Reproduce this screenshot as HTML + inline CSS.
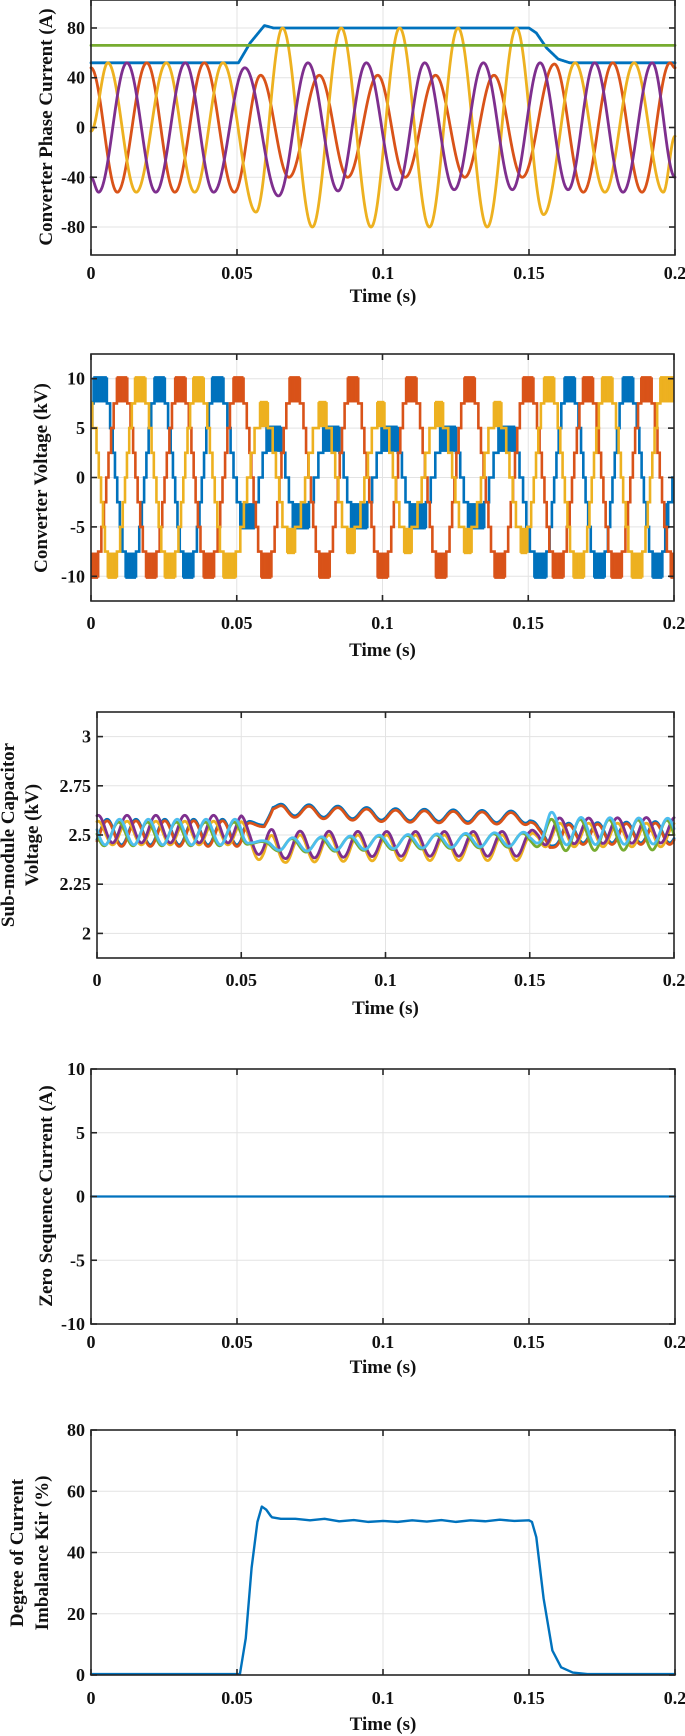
<!DOCTYPE html>
<html><head><meta charset="utf-8">
<style>
html,body{margin:0;padding:0;background:#fff;}
svg{display:block;font-family:"Liberation Serif",serif;font-weight:bold;}
</style></head>
<body>
<svg id="fig" width="685" height="1736" viewBox="0 0 685 1736" xmlns="http://www.w3.org/2000/svg"></svg>
<script>
// ===== Chart 1 data: converter phase current (extrema times / values) =====
const c1BlueT = [0,0.0505,0.0545,0.0594,0.0625,0.07,0.15,0.1525,0.156,0.16,0.164,0.2];
const c1BlueV = [52,52,68,82,80,80,80,76,64,55,52,52];
const c1GreenT = [0,0.2];
const c1GreenV = [66,66];
const c1YellowT = [0,0.0058,0.0155,0.0258,0.0355,0.0452,0.0565,0.0656,0.0758,0.0857,0.0959,0.1057,0.1159,0.1257,0.1357,0.1457,0.155,0.1658,0.176,0.186,0.196,0.2];
const c1YellowV = [-3,52,-52,52,-52,52,-68,80,-80,80,-80,80,-80,80,-80,80,-70,52,-52,52,-52,-7];
const c1OrangeT = [0,0.009,0.0191,0.0287,0.0388,0.0491,0.0581,0.0678,0.0782,0.0879,0.0982,0.1076,0.118,0.128,0.138,0.1477,0.1587,0.1686,0.1787,0.1887,0.1983,0.2];
const c1OrangeV = [48,-52,52,-52,52,-52,42,-40,42,-40,42,-40,42,-40,42,-40,51,-52,52,-52,52,48];
const c1PurpleT = [0,0.0026,0.0123,0.0222,0.0323,0.042,0.0527,0.0642,0.0743,0.0846,0.0943,0.1047,0.1143,0.1244,0.1344,0.1443,0.1538,0.1634,0.1725,0.1822,0.1922,0.2];
const c1PurpleV = [-40,-52,52,-52,52,-52,48,-55,52,-51,52,-50,52,-50,52,-50,52,-50,52,-52,52,-40];
const c1YTicks = [-80,-40,0,40,80];

// ===== Chart 2 data: converter voltage (extrema of the staircase envelope, kV) =====
const c2BlueT = [0,0.0036,0.0136,0.0235,0.0333,0.0433,0.0536,0.0627,0.0717,0.0827,0.0917,0.1027,0.1118,0.1227,0.1318,0.1428,0.1544,0.1641,0.1744,0.1841,0.1944,0.2];
const c2BlueV = [8.5,10.3,-10.3,10.3,-10.3,10.3,-5.8,5.8,-5.8,5.8,-5.8,5.8,-5.8,5.8,-5.8,5.8,-10.3,10.3,-10.3,10.3,-10.3,-1];
const c2OrangeT = [0,0.0006,0.0106,0.0206,0.0306,0.0404,0.0506,0.0601,0.0698,0.0801,0.0898,0.1001,0.1098,0.1201,0.1298,0.1402,0.1499,0.1602,0.1705,0.1802,0.1906,0.2];
const c2OrangeV = [-9.5,-10.3,10.3,-10.3,10.3,-10.3,10.3,-10.3,10.3,-10.3,10.3,-10.3,10.3,-10.3,10.3,-10.3,10.3,-10.3,10.3,-10.3,10.3,-9.5];
const c2YellowT = [0,0.0071,0.0168,0.0271,0.0368,0.0472,0.0594,0.0685,0.0795,0.0891,0.0995,0.1085,0.1195,0.1292,0.1395,0.1486,0.157,0.1673,0.177,0.1873,0.197,0.2];
const c2YellowV = [6.4,-10.3,10.3,-10.3,10.3,-10.3,6.8,-6.8,6.8,-6.8,6.8,-6.8,6.8,-6.8,6.8,-6.8,10.3,-10.3,10.3,-10.3,10.3,9.5];
const c2YTicks = [-10,-5,0,5,10];

// ===== Chart 3 data: sub-module capacitor voltage (knot means / ripple amplitudes, kV) =====
const c3KnotT = [0,0.05,0.053,0.058,0.061,0.065,0.1,0.15,0.153,0.157,0.162,0.2];
const c3BlueMean = [2.515,2.515,2.56,2.55,2.64,2.63,2.605,2.59,2.53,2.45,2.51,2.515];
const c3BlueAmp = [0.065,0.065,0.01,0,0.01,0.03,0.03,0.03,0.01,0.01,0.05,0.055];
const c3OrangeMean = [2.507,2.507,2.552,2.542,2.632,2.622,2.597,2.582,2.522,2.442,2.502,2.507];
const c3OrangeAmp = [0.065,0.065,0.01,0,0.01,0.03,0.03,0.03,0.01,0.01,0.05,0.055];
const c3YellowMean = [2.51,2.51,2.48,2.41,2.41,2.43,2.435,2.435,2.49,2.5,2.5,2.5];
const c3YellowAmp = [0.06,0.06,0.05,0.08,0.09,0.07,0.065,0.065,0.05,0.06,0.06,0.06];
const c3PurpleMean = [2.53,2.53,2.5,2.44,2.44,2.45,2.455,2.455,2.5,2.52,2.52,2.525];
const c3PurpleAmp = [0.07,0.07,0.05,0.08,0.09,0.07,0.063,0.063,0.05,0.07,0.065,0.065];
const c3GreenMean = [2.505,2.505,2.465,2.455,2.445,2.445,2.46,2.475,2.5,2.5,2.5,2.5];
const c3GreenAmp = [0.06,0.06,0.01,0.01,0.02,0.035,0.035,0.035,0.06,0.08,0.08,0.075];
const c3CyanMean = [2.515,2.515,2.47,2.46,2.45,2.45,2.465,2.48,2.52,2.53,2.52,2.52];
const c3CyanAmp = [0.065,0.065,0.01,0.01,0.02,0.035,0.035,0.035,0.06,0.09,0.07,0.065];
const c3PeakPhase = [0.0035,0.0035,0.0004,0.0004,0.0075,0.0078]; // blue, orange, yellow, purple, green, cyan
const c3YTicks = [2,2.25,2.5,2.75,3];
const c3YTickLabels = ["2","2.25","2.5","2.75","3"];

// ===== Chart 4 data: zero sequence current =====
const c4T = [0,0.2];
const c4V = [0,0];
const c4YTicks = [-10,-5,0,5,10];

// ===== Chart 5 data: degree of current imbalance Kir (%) =====
const c5T = [0,0.051,0.053,0.055,0.057,0.0585,0.06,0.0615,0.062,0.065,0.07,0.075,0.08,0.085,0.09,0.095,0.1,0.105,0.11,0.115,0.12,0.125,0.13,0.135,0.14,0.145,0.15,0.151,0.1525,0.155,0.158,0.161,0.165,0.17,0.2];
const c5V = [0.3,0.3,12,35,50,55,54,52,51.5,51,51,50.5,51,50.2,50.6,50,50.3,50,50.5,50.1,50.6,50,50.5,50.2,50.7,50.3,50.5,50,45,25,8,2.5,0.8,0.3,0.3];
const c5YTicks = [0,20,40,60,80];

const xTicks = [0,0.05,0.1,0.15,0.2];
const xTickLabels = ["0","0.05","0.1","0.15","0.2"];

const COL = {blue:"#0072BD",orange:"#D95319",yellow:"#EDB120",purple:"#7E2F8E",green:"#77AC30",cyan:"#4DBEEE"};
const NS = "http://www.w3.org/2000/svg";
const fig = document.getElementById('fig');

function mk(tag, attrs, parent){
  const e = document.createElementNS(NS, tag);
  for (const k in attrs) e.setAttribute(k, attrs[k]);
  (parent||fig).appendChild(e);
  return e;
}

function makeAxes(cfg){
  const g = mk('g', {});
  
  
  const sx = t => cfg.L + (t - 0) / 0.2 * (cfg.R - cfg.L);
  const sy = v => cfg.B - (v - cfg.yMin) / (cfg.yMax - cfg.yMin) * (cfg.B - cfg.T);
  const grid = mk('g', {}, g);
  
  
  xTicks.forEach(t => { mk('line', {x1:sx(t),x2:sx(t),y1:cfg.T,y2:cfg.B,stroke:"#e3e3e3","stroke-width":1}, grid); });
  cfg.yTicks.forEach(v => { mk('line', {x1:cfg.L,x2:cfg.R,y1:sy(v),y2:sy(v),stroke:"#e3e3e3","stroke-width":1}, grid); });
  const plot = mk('g', {}, g);
  
  
  return {g, plot, sx, sy, cfg};
}

function finishAxes(ax){
  const {g, sx, sy, cfg} = ax;
  const box = mk('rect', {x:cfg.L,y:cfg.T,width:cfg.R-cfg.L,height:cfg.B-cfg.T,fill:"none",stroke:"#262626","stroke-width":1.6}, g);
  
  
  xTicks.forEach((t,i) => {
    mk('line', {x1:sx(t),x2:sx(t),y1:cfg.B,y2:cfg.B-6,stroke:"#262626","stroke-width":1.6}, g);
    mk('line', {x1:sx(t),x2:sx(t),y1:cfg.T,y2:cfg.T+6,stroke:"#262626","stroke-width":1.6}, g);
    const tx = mk('text', {x:sx(t), y:cfg.xLabY, "text-anchor":"middle","font-size":18,fill:"#111"}, g);
    
    
    tx.textContent = xTickLabels[i];
  });
  cfg.yTicks.forEach((v,i) => {
    mk('line', {x1:cfg.L,x2:cfg.L+6,y1:sy(v),y2:sy(v),stroke:"#262626","stroke-width":1.6}, g);
    mk('line', {x1:cfg.R,x2:cfg.R-6,y1:sy(v),y2:sy(v),stroke:"#262626","stroke-width":1.6}, g);
    const ty = mk('text', {x:cfg.L-6, y:sy(v)+6, "text-anchor":"end","font-size":18,fill:"#111"}, g);
    
    
    ty.textContent = cfg.yLabels ? cfg.yLabels[i] : String(v);
  });
  const xt = mk('text', {x:(cfg.L+cfg.R)/2, y:cfg.xTitleY, "text-anchor":"middle","font-size":19,fill:"#111"}, g);
  
  
  xt.textContent = "Time (s)";
  cfg.yTitle.forEach((line, i) => {
    const x = cfg.yTitleX[i], y = cfg.yTitleY;
    const yt = mk('text', {x:x, y:y, "text-anchor":"middle","font-size":19,fill:"#111",transform:`rotate(-90 ${x} ${y})`}, g);
    
    
    yt.textContent = line;
  });
}

function extremaValue(T, V, t){
  for (let i = 0; i < T.length-1; i++){
    if (t <= T[i+1]){
      const s = (t - T[i]) / (T[i+1]-T[i]);
      return {v: V[i] + (V[i+1]-V[i]) * (1 - Math.cos(Math.PI*s)) / 2, a: Math.abs(s<0.5?V[i]:V[i+1])};
    }
  }
  return {v: V[V.length-1], a: Math.abs(V[V.length-1])};
}
function linValue(T, V, t){
  for (let i = 0; i < T.length-1; i++){
    if (t <= T[i+1]){
      const s = (t - T[i]) / (T[i+1]-T[i]);
      return V[i] + (V[i+1]-V[i]) * s;
    }
  }
  return V[V.length-1];
}

function drawPath(ax, pts, color, w, name){
  let d = '';
  pts.forEach((p,i) => { d += (i? 'L':'M') + ax.sx(p[0]).toFixed(2) + ' ' + ax.sy(p[1]).toFixed(2); });
  const p = mk('path', {d:d, fill:"none", stroke:color, "stroke-width":w, "stroke-linejoin":"round", "stroke-linecap":"round"}, ax.plot);
  
  
  return p;
}

const N = 1200;

// ---------- Chart 1 ----------
const ax1 = makeAxes({name:'phase-current-chart', L:91,R:675,T:0,B:255,yMin:-102.5,yMax:102.5,yTicks:c1YTicks,
  xLabY:279,xTitleY:302,yTitle:["Converter Phase Current (A)"],yTitleX:[52],yTitleY:127});
function extremaSeries(T,V){ const pts=[]; for(let i=0;i<=N;i++){const t=0.2*i/N; pts.push([t, extremaValue(T,V,t).v]);} return pts; }
function linSeries(T,V){ const pts=[]; for(let i=0;i<=N;i++){const t=0.2*i/N; pts.push([t, linValue(T,V,t)]);} return pts; }
drawPath(ax1, linSeries(c1BlueT,c1BlueV), COL.blue, 2.8, 'series-blue-envelope');
drawPath(ax1, extremaSeries(c1OrangeT,c1OrangeV), COL.orange, 2.8, 'series-orange-phase');
drawPath(ax1, extremaSeries(c1YellowT,c1YellowV), COL.yellow, 2.8, 'series-yellow-phase');
drawPath(ax1, extremaSeries(c1PurpleT,c1PurpleV), COL.purple, 2.8, 'series-purple-phase');
drawPath(ax1, linSeries(c1GreenT,c1GreenV), COL.green, 2.8, 'series-green-reference');
finishAxes(ax1);

// ---------- Chart 2 ----------
const ax2 = makeAxes({name:'converter-voltage-chart', L:91,R:674,T:354,B:601,yMin:-12.5,yMax:12.5,yTicks:c2YTicks,
  xLabY:629,xTitleY:656,yTitle:["Converter Voltage (kV)"],yTitleX:[47],yTitleY:478});
function staircase(ax, T, V, color, name){
  const M = 1800;
  const pts = [];
  const g = mk('g', {}, ax.plot);
  
  
  let prevQ = null;
  for (let i=0;i<=M;i++){
    const t = 0.2*i/M;
    const r = extremaValue(T,V,t);
    let q = Math.round(r.v/2.5)*2.5;
    q = Math.max(-10, Math.min(10, q));
    if (prevQ !== null && q !== prevQ) pts.push([t, prevQ]);
    pts.push([t, q]);
    prevQ = q;
    const peakQ = Math.min(10, Math.round(r.a/2.5)*2.5);
    if (q !== 0 && Math.abs(q) >= peakQ && Math.abs(q) >= 5){
      const s = Math.sign(q);
      mk('line', {x1:ax.sx(t),x2:ax.sx(t),y1:ax.sy(q+ s*0.25),y2:ax.sy(q - s*2.4),stroke:color,"stroke-width":0.7}, g);
    }
  }
  let d=''; pts.forEach((p,i)=>{ d += (i?'L':'M') + ax.sx(p[0]).toFixed(2)+' '+ax.sy(p[1]).toFixed(2); });
  const path = mk('path', {d:d, fill:"none", stroke:color, "stroke-width":2.6, "stroke-linejoin":"miter"}, g);
  
  
}
staircase(ax2, c2BlueT, c2BlueV, COL.blue, 'series-phase-a-voltage');
staircase(ax2, c2OrangeT, c2OrangeV, COL.orange, 'series-phase-b-voltage');
staircase(ax2, c2YellowT, c2YellowV, COL.yellow, 'series-phase-c-voltage');
finishAxes(ax2);

// ---------- Chart 3 ----------
const ax3 = makeAxes({name:'capacitor-voltage-chart', L:97,R:674,T:712,B:958,yMin:1.875,yMax:3.125,yTicks:c3YTicks,yLabels:c3YTickLabels,
  xLabY:986,xTitleY:1014,yTitle:["Sub-module Capacitor","Voltage (kV)"],yTitleX:[14,38],yTitleY:835});
function rippleSeries(mean, amp, ph){
  const pts=[];
  for(let i=0;i<=N;i++){
    const t=0.2*i/N;
    const m = linValue(c3KnotT, mean, t), a = linValue(c3KnotT, amp, t);
    pts.push([t, m + a*Math.cos(2*Math.PI*100*(t-ph))]);
  }
  return pts;
}
drawPath(ax3, rippleSeries(c3BlueMean,c3BlueAmp,c3PeakPhase[0]), COL.blue, 2.8, 'series-cap-blue');
drawPath(ax3, rippleSeries(c3OrangeMean,c3OrangeAmp,c3PeakPhase[1]), COL.orange, 2.8, 'series-cap-orange');
drawPath(ax3, rippleSeries(c3YellowMean,c3YellowAmp,c3PeakPhase[2]), COL.yellow, 2.8, 'series-cap-yellow');
drawPath(ax3, rippleSeries(c3PurpleMean,c3PurpleAmp,c3PeakPhase[3]), COL.purple, 2.8, 'series-cap-purple');
drawPath(ax3, rippleSeries(c3GreenMean,c3GreenAmp,c3PeakPhase[4]), COL.green, 2.8, 'series-cap-green');
drawPath(ax3, rippleSeries(c3CyanMean,c3CyanAmp,c3PeakPhase[5]), COL.cyan, 2.8, 'series-cap-cyan');
finishAxes(ax3);

// ---------- Chart 4 ----------
const ax4 = makeAxes({name:'zero-sequence-chart', L:91,R:675,T:1069,B:1324,yMin:-10,yMax:10,yTicks:c4YTicks,
  xLabY:1348,xTitleY:1373,yTitle:["Zero Sequence Current (A)"],yTitleX:[52],yTitleY:1196});
drawPath(ax4, linSeries(c4T,c4V), COL.blue, 2.2, 'series-zero-sequence');
finishAxes(ax4);

// ---------- Chart 5 ----------
const ax5 = makeAxes({name:'imbalance-chart', L:91,R:675,T:1430,B:1675,yMin:0,yMax:80,yTicks:c5YTicks,
  xLabY:1704,xTitleY:1730,yTitle:["Degree of Current","Imbalance Kir (%)"],yTitleX:[23,48],yTitleY:1553});
drawPath(ax5, c5T.map((t,i)=>[t,c5V[i]]), COL.blue, 2.4, 'series-kir');
finishAxes(ax5);
</script>
</body></html>
